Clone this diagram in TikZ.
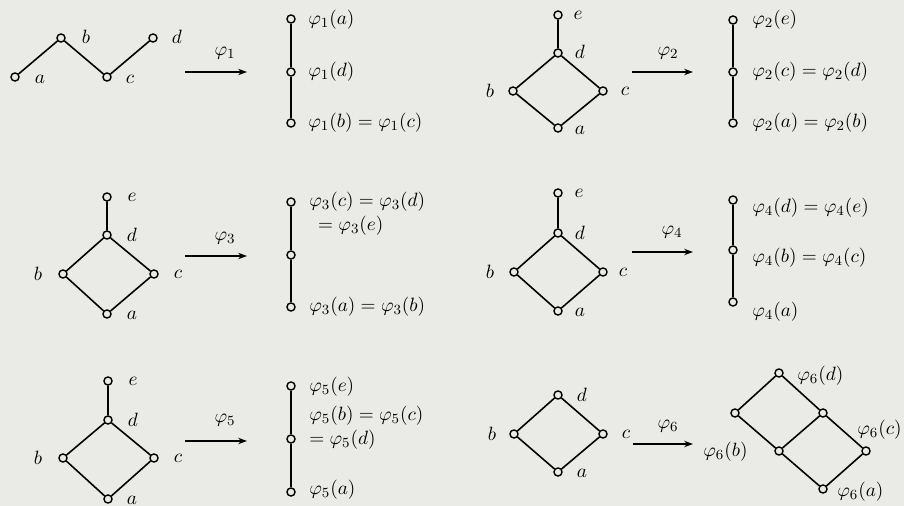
\documentclass[tikz,border=0pt]{standalone}
\usetikzlibrary{arrows.meta}
\definecolor{paper}{RGB}{234,234,230}
\begin{document}
\begin{tikzpicture}[x=0.02cm,y=-0.02cm,
	pt/.style={circle,draw,line width=0.8pt,fill=paper,inner sep=0pt,minimum size=4.6pt},
	edge/.style={line width=0.9pt},
	map/.style={line width=0.9pt,-{Stealth[length=5pt,width=3.6pt]}},
	lbl/.style={font=\fontsize{11}{11}\selectfont,inner sep=0pt},
	val/.style={lbl,anchor=west,align=left}]
	\fill[paper] (0,0) rectangle (904,506);
	\useasboundingbox (0,0) rectangle (904,506);
	% panel 1
	\node[pt] (a1) at (15,77) {};
	\node[pt] (b1) at (61,38) {};
	\node[pt] (c1) at (107,77) {};
	\node[pt] (d1) at (153,38) {};
	\draw[edge] (a1) -- (b1) -- (c1) -- (d1);
	\node[lbl] (la1) at (40,79) {$a$};
	\node[lbl] (lb1) at (86,37) {$b$};
	\node[lbl] (lc1) at (130,79) {$c$};
	\node[lbl] (ld1) at (177,37) {$d$};
	\coordinate (s1) at (185,72);
	\coordinate (t1) at (247,72);
	\draw[map] (s1) -- (t1);
	\node[lbl] (m1) at (225,53) {$\varphi_1$};
	\node[pt] (f1a) at (291,19) {};
	\node[pt] (f1d) at (291,72) {};
	\node[pt] (f1bc) at (291,123) {};
	\draw[edge] (f1a) -- (f1d) -- (f1bc);
	\node[val] (v1a) at (308,20) {$\varphi_1(a)$};
	\node[val] (v1d) at (308,72) {$\varphi_1(d)$};
	\node[val] (v1bc) at (308,123) {$\varphi_1(b)=\varphi_1(c)$};
	% panel 2
	\node[pt] (e2) at (558,15) {};
	\node[pt] (d2) at (558,53) {};
	\node[pt] (b2) at (513,91) {};
	\node[pt] (c2) at (603,91) {};
	\node[pt] (a2) at (558,128) {};
	\draw[edge] (e2) -- (d2) -- (b2) -- (a2) -- (c2) -- (d2);
	\node[lbl] (le2) at (578,15) {$e$};
	\node[lbl] (ld2) at (580,52) {$d$};
	\node[lbl] (lb2) at (490,91) {$b$};
	\node[lbl] (lc2) at (625,91) {$c$};
	\node[lbl] (la2) at (580,130) {$a$};
	\coordinate (s2) at (632,72);
	\coordinate (t2) at (693,72);
	\draw[map] (s2) -- (t2);
	\node[lbl] (m2) at (668,53) {$\varphi_2$};
	\node[pt] (f2e) at (733,20) {};
	\node[pt] (f2cd) at (733,72) {};
	\node[pt] (f2ab) at (733,123) {};
	\draw[edge] (f2e) -- (f2cd) -- (f2ab);
	\node[val] (v2e) at (752,20) {$\varphi_2(e)$};
	\node[val] (v2cd) at (752,72) {$\varphi_2(c)=\varphi_2(d)$};
	\node[val] (v2ab) at (752,123) {$\varphi_2(a)=\varphi_2(b)$};
	% panel 3
	\node[pt] (e3) at (107,197) {};
	\node[pt] (d3) at (107,235) {};
	\node[pt] (b3) at (63,274) {};
	\node[pt] (c3) at (154,274) {};
	\node[pt] (a3) at (107,314) {};
	\draw[edge] (e3) -- (d3) -- (b3) -- (a3) -- (c3) -- (d3);
	\node[lbl] (le3) at (132,197) {$e$};
	\node[lbl] (ld3) at (132,235) {$d$};
	\node[lbl] (lb3) at (38,274) {$b$};
	\node[lbl] (lc3) at (178,274) {$c$};
	\node[lbl] (la3) at (132,315) {$a$};
	\coordinate (s3) at (185,256);
	\coordinate (t3) at (247,256);
	\draw[map] (s3) -- (t3);
	\node[lbl] (m3) at (225,238) {$\varphi_3$};
	\node[pt] (f3cde) at (291,202) {};
	\node[pt] (f3mid) at (291,255) {};
	\node[pt] (f3ab) at (291,307) {};
	\draw[edge] (f3cde) -- (f3mid) -- (f3ab);
	\node[val] (v3cde) at (309,214) {$\varphi_3(c)=\varphi_3(d)$\\[2.5pt]\hspace*{5pt}$=\varphi_3(e)$};
	\node[val] (v3ab) at (309,307) {$\varphi_3(a)=\varphi_3(b)$};
	% panel 4
	\node[pt] (e4) at (558,193) {};
	\node[pt] (d4) at (558,233) {};
	\node[pt] (b4) at (514,272) {};
	\node[pt] (c4) at (603,272) {};
	\node[pt] (a4) at (558,311) {};
	\draw[edge] (e4) -- (d4) -- (b4) -- (a4) -- (c4) -- (d4);
	\node[lbl] (le4) at (579,193) {$e$};
	\node[lbl] (ld4) at (580,233) {$d$};
	\node[lbl] (lb4) at (490,272) {$b$};
	\node[lbl] (lc4) at (623,272) {$c$};
	\node[lbl] (la4) at (580,312) {$a$};
	\coordinate (s4) at (632,252);
	\coordinate (t4) at (693,252);
	\draw[map] (s4) -- (t4);
	\node[lbl] (m4) at (672,232) {$\varphi_4$};
	\node[pt] (f4de) at (733,200) {};
	\node[pt] (f4bc) at (733,250) {};
	\node[pt] (f4a) at (733,302) {};
	\draw[edge] (f4de) -- (f4bc) -- (f4a);
	\node[val] (v4de) at (752,208) {$\varphi_4(d)=\varphi_4(e)$};
	\node[val] (v4bc) at (752,258) {$\varphi_4(b)=\varphi_4(c)$};
	\node[val] (v4a) at (752,312) {$\varphi_4(a)$};
	% panel 5
	\node[pt] (e5) at (108,381) {};
	\node[pt] (d5) at (108,420) {};
	\node[pt] (b5) at (63,458) {};
	\node[pt] (c5) at (154,458) {};
	\node[pt] (a5) at (108,499) {};
	\draw[edge] (e5) -- (d5) -- (b5) -- (a5) -- (c5) -- (d5);
	\node[lbl] (le5) at (133,381) {$e$};
	\node[lbl] (ld5) at (133,420) {$d$};
	\node[lbl] (lb5) at (38,458) {$b$};
	\node[lbl] (lc5) at (178,458) {$c$};
	\node[lbl] (la5) at (132,500) {$a$};
	\coordinate (s5) at (185,441);
	\coordinate (t5) at (247,441);
	\draw[map] (s5) -- (t5);
	\node[lbl] (m5) at (225,420) {$\varphi_5$};
	\node[pt] (f5e) at (291,386) {};
	\node[pt] (f5bcd) at (291,439) {};
	\node[pt] (f5a) at (291,492) {};
	\draw[edge] (f5e) -- (f5bcd) -- (f5a);
	\node[val] (v5e) at (309,387) {$\varphi_5(e)$};
	\node[val] (v5bcd) at (309,428) {$\varphi_5(b)=\varphi_5(c)$\\[2.5pt]$=\varphi_5(d)$};
	\node[val] (v5a) at (309,490) {$\varphi_5(a)$};
	% panel 6
	\node[pt] (d6) at (558,395) {};
	\node[pt] (b6) at (514,434) {};
	\node[pt] (c6) at (603,434) {};
	\node[pt] (a6) at (558,472) {};
	\draw[edge] (d6) -- (b6) -- (a6) -- (c6) -- (d6);
	\node[lbl] (ld6) at (582,395) {$d$};
	\node[lbl] (lb6) at (492,434) {$b$};
	\node[lbl] (lc6) at (626,434) {$c$};
	\node[lbl] (la6) at (582,473) {$a$};
	\coordinate (s6) at (633,444);
	\coordinate (t6) at (693,444);
	\draw[map] (s6) -- (t6);
	\node[lbl] (m6) at (668,426) {$\varphi_6$};
	\node[pt] (g6d) at (779,373) {};
	\node[pt] (g6l) at (735,413) {};
	\node[pt] (g6m) at (823,413) {};
	\node[pt] (g6b) at (779,451) {};
	\node[pt] (g6c) at (866,451) {};
	\node[pt] (g6a) at (823,489) {};
	\draw[edge] (g6d) -- (g6l) -- (g6b) -- (g6a) -- (g6c) -- (g6m) -- (g6d);
	\draw[edge] (g6m) -- (g6b);
	\node[val] (v6d) at (797,376) {$\varphi_6(d)$};
	\node[val] (v6c) at (857,430) {$\varphi_6(c)$};
	\node[val] (v6b) at (703,452) {$\varphi_6(b)$};
	\node[val] (v6a) at (837,492) {$\varphi_6(a)$};
\end{tikzpicture}
\end{document}
